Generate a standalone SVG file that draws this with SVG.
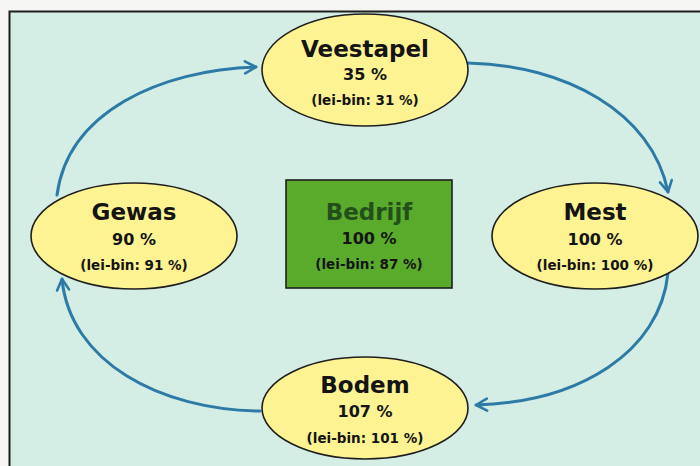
<svg xmlns="http://www.w3.org/2000/svg" width="700" height="466" viewBox="0 0 700 466">
<defs>
<style>
.node{fill:#fdf392;stroke:#1e1e1e;stroke-width:1.6}
.t{font-family:"DejaVu Sans",Verdana,sans-serif;font-weight:bold;text-anchor:middle;fill:#141414}
.h{font-size:23px}
.p{font-size:16px}
.l{font-size:13.5px}
.conn{fill:none;stroke:#2e7aa6;stroke-width:3;stroke-linecap:round}
</style>
<marker id="arr" viewBox="0 0 16 16" refX="13" refY="8" markerWidth="16" markerHeight="16" markerUnits="userSpaceOnUse" orient="auto">
<polyline points="2,2 13,8 2,14" fill="none" stroke="#2e7aa6" stroke-width="2.6" stroke-linecap="round" stroke-linejoin="round"/>
</marker>
</defs>
<rect x="0" y="0" width="700" height="466" fill="#f5f5f3"/>
<rect x="9.5" y="11.5" width="720" height="480" fill="#d4eee6" stroke="#1e1e1e" stroke-width="2"/>
<g id="connectors">
<path class="conn" d="M57,195 C68,112 160,70 256,67" marker-end="url(#arr)"/>
<path class="conn" d="M468,63 C565,65 652,112 668,192" marker-end="url(#arr)"/>
<path class="conn" d="M668,273 C660,352 580,402 476,405" marker-end="url(#arr)"/>
<path class="conn" d="M260,411 C160,410 70,362 62,279" marker-end="url(#arr)"/>
</g>
<g id="veestapel">
<ellipse class="node" cx="365" cy="70" rx="103" ry="56"/>
<text class="t h" x="365" y="57">Veestapel</text>
<text class="t p" x="365" y="80">35 %</text>
<text class="t l" x="365" y="105">(lei-bin: 31 %)</text>
</g>
<g id="gewas">
<ellipse class="node" cx="134" cy="236" rx="103" ry="53"/>
<text class="t h" x="134" y="220">Gewas</text>
<text class="t p" x="134" y="245">90 %</text>
<text class="t l" x="134" y="270">(lei-bin: 91 %)</text>
</g>
<g id="bedrijf">
<rect x="286" y="180" width="166" height="108" fill="#5aab2c" stroke="#1e1e1e" stroke-width="1.6"/>
<text class="t h" x="369" y="220" style="fill:#23501a">Bedrijf</text>
<text class="t p" x="369" y="244">100 %</text>
<text class="t l" x="369" y="269">(lei-bin: 87 %)</text>
</g>
<g id="mest">
<ellipse class="node" cx="595" cy="236" rx="103" ry="53"/>
<text class="t h" x="595" y="220">Mest</text>
<text class="t p" x="595" y="245">100 %</text>
<text class="t l" x="595" y="270">(lei-bin: 100 %)</text>
</g>
<g id="bodem">
<ellipse class="node" cx="365" cy="408" rx="103" ry="51"/>
<text class="t h" x="365" y="393">Bodem</text>
<text class="t p" x="365" y="417">107 %</text>
<text class="t l" x="365" y="443">(lei-bin: 101 %)</text>
</g>
</svg>
